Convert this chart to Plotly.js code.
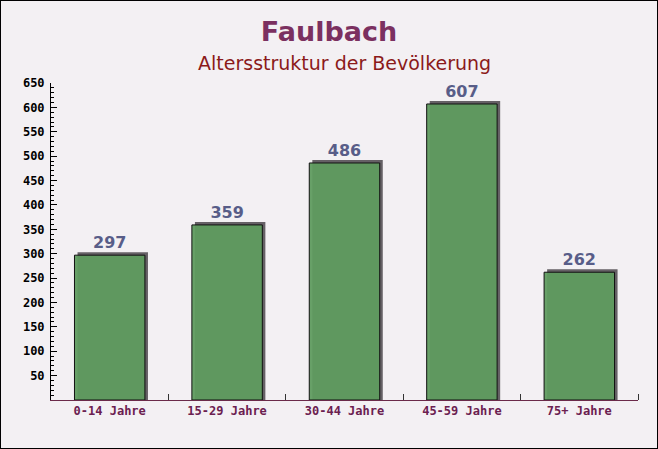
<!DOCTYPE html>
<html>
<head>
<meta charset="utf-8">
<script src="https://cdn.plot.ly/plotly-3.0.1.min.js"></script>
<style>
html,body{margin:0;padding:0;background:#f3f0f3;}
#wrap{position:relative;width:658px;height:449px;}
#chart{width:658px;height:449px;}
#frame{position:absolute;left:0;top:0;width:658px;height:449px;box-sizing:border-box;border:1px solid #000;pointer-events:none;}
</style>
</head>
<body>
<div id="wrap"><div id="chart"></div><div id="frame"></div></div>
<script>
var categories = ["0-14 Jahre", "15-29 Jahre", "30-44 Jahre", "45-59 Jahre", "75+ Jahre"];
var values = [297, 359, 486, 607, 262];
var yTicks = [50, 100, 150, 200, 250, 300, 350, 400, 450, 500, 550, 600, 650];

var xs = categories.map(function(c, i){ return i; });
var boundaries = categories.map(function(c, i){ return i + 0.5; });

var shadow = {
  type: 'bar', x: xs, y: values.map(function(v){ return v + 6; }),
  width: 0.6, offset: -0.3 + 0.026,
  marker: {color: 'rgba(85,80,85,0.9)', line: {width: 0}},
  hoverinfo: 'skip', showlegend: false
};
var bars = {
  type: 'bar', x: xs, y: values,
  width: 0.6, offset: -0.3,
  marker: {color: 'rgba(95,155,95,0.95)', line: {color: '#111', width: 1}},
  text: values.map(String), textposition: 'outside', cliponaxis: false,
  textfont: {family: 'DejaVu Sans', size: 16, color: '#585d88', weight: 'bold'},
  showlegend: false
};

var layout = {
  width: 658, height: 449,
  margin: {l: 51, r: 20, t: 83, b: 49},
  paper_bgcolor: '#f3f0f3', plot_bgcolor: 'rgba(0,0,0,0)',
  barmode: 'overlay',
  title: {text: '<b>Faulbach</b>', x: 0.5, xanchor: 'center', y: 0.93, yanchor: 'middle',
          font: {family: 'DejaVu Sans', size: 27, color: '#7b3060'}},
  annotations: [{text: 'Altersstruktur der Bevölkerung', xref: 'paper', yref: 'paper',
    x: 0.5, y: 1, yshift: 20, xanchor: 'center', yanchor: 'middle', showarrow: false,
    font: {family: 'DejaVu Sans', size: 19, color: '#8b1a1a'}}],
  xaxis: {
    range: [-0.5, 4.5], tickvals: xs, ticktext: categories, ticks: '',
    showgrid: false, zeroline: false, showline: true, linecolor: '#6b2a4a', linewidth: 1,
    tickfont: {family: 'DejaVu Sans Mono', size: 12, color: '#6b2050', weight: 'bold'},
    minor: {tickvals: boundaries, ticks: 'inside', ticklen: 6, tickcolor: '#333', showgrid: false},
    fixedrange: true
  },
  yaxis: {
    range: [0, 650], tickvals: yTicks, ticks: 'inside', ticklen: 6, tickcolor: '#000',
    showgrid: false, zeroline: false, showline: true, linecolor: '#000', linewidth: 1,
    tickfont: {family: 'DejaVu Sans Mono', size: 12, color: '#000', weight: 'bold'},
    minor: {dtick: 10, ticks: 'inside', ticklen: 3, tickcolor: '#000', showgrid: false},
    ticklabelstandoff: 3,
    fixedrange: true
  }
};

Plotly.newPlot('chart', [shadow, bars], layout, {displayModeBar: false, staticPlot: true});
</script>
</body>
</html>
